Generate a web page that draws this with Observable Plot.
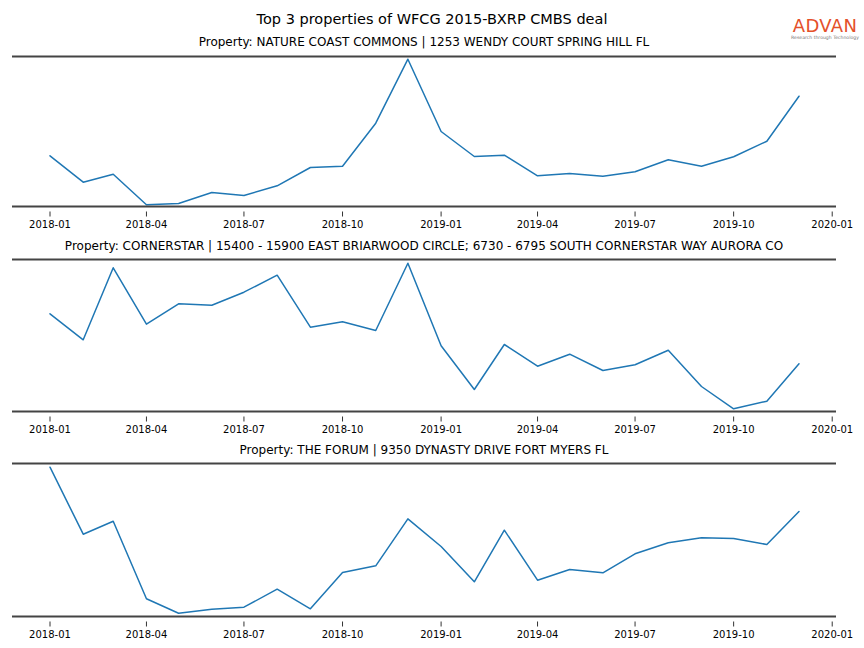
<!DOCTYPE html>
<html><head><meta charset="utf-8">
<script src="https://cdn.jsdelivr.net/npm/d3@7"></script>
<script src="https://cdn.jsdelivr.net/npm/@observablehq/plot@0.6"></script>
<style>
body{margin:0;background:#fff;font-family:"DejaVu Sans",sans-serif;}
#fig{position:relative;width:864px;height:648px;overflow:hidden;background:#fff;}
.t{position:absolute;text-align:center;white-space:nowrap;color:#000;}
.p{position:absolute;left:0;}
#logo{position:absolute;left:791px;top:15px;width:68px;text-align:center;}
#logo .a{font-size:18px;color:#e4502a;letter-spacing:0.3px;line-height:22px;}
#logo .b{font-size:4.6px;color:#777;line-height:6px;margin-top:-2px;}
</style></head><body>
<div id="fig">
  <div class="t" style="left:0;width:864px;top:10px;font-size:14.5px;line-height:18px;">Top 3 properties of WFCG 2015-BXRP CMBS deal</div>
  <div id="logo"><div class="a">ADVAN</div><div class="b">Research through Technology</div></div>
</div>
<script>
const months = ["2018-01","2018-02","2018-03","2018-04","2018-05","2018-06","2018-07","2018-08","2018-09","2018-10","2018-11","2018-12",
                "2019-01","2019-02","2019-03","2019-04","2019-05","2019-06","2019-07","2019-08","2019-09","2019-10","2019-11","2019-12"];
const tickLabels = ["2018-01","2018-04","2018-07","2018-10","2019-01","2019-04","2019-07","2019-10","2020-01"];
const titles = [
  "Property: NATURE COAST COMMONS | 1253 WENDY COURT SPRING HILL FL",
  "Property: CORNERSTAR | 15400 - 15900 EAST BRIARWOOD CIRCLE; 6730 - 6795 SOUTH CORNERSTAR WAY AURORA CO",
  "Property: THE FORUM | 9350 DYNASTY DRIVE FORT MYERS FL"
];
const natureCoast = [50.7,24.3,32.3,1.7,3,14,11,20.7,39,40.3,83.3,147.3,75,50,51.3,30.7,33,30.3,34.7,46.7,40.3,49.7,65.3,110.3];
const cornerstar  = [97.7,71.7,143.7,87.3,107.7,106.3,119.3,136.3,84.3,89.7,81,148.3,65.7,22,67,45.3,57.3,41,46.7,61.3,25,2.7,10.3,47.7];
const theForum    = [149.3,82.3,95.3,17.7,3.3,7.3,9.3,27.3,7.7,44,50.7,97.7,70,34.7,86.3,36.3,47,43.7,62.7,73.7,78.7,78,72,105];
const series = [natureCoast, cornerstar, theForum];
const yMax = [150, 152, 153];
const xDomain = [new Date(Date.UTC(2017,10,27)), new Date(Date.UTC(2020,0,5))];

const parse = d3.utcParse("%Y-%m");
const fig = document.getElementById("fig");
const spineTops = [56, 259, 463];
const titleTops = [35, 239, 443];

series.forEach((vals, i) => {
  const data = months.map((m, j) => ({date: parse(m), value: vals[j]}));
  const t = document.createElement("div");
  t.className = "t";
  t.style.cssText = `left:12px;width:824px;top:${titleTops[i]}px;font-size:12px;line-height:14px;`;
  t.textContent = titles[i];
  fig.appendChild(t);

  const plot = Plot.plot({
    width: 864,
    height: 2 + yMax[i] + 32,
    marginLeft: 12, marginRight: 28, marginTop: 2, marginBottom: 32,
    style: {fontFamily: "DejaVu Sans", fontSize: "10px", background: "transparent", overflow: "visible"},
    x: {type: "utc", domain: xDomain, axis: null},
    y: {domain: [0, yMax[i]], axis: null},
    marks: [
      Plot.axisX(tickLabels.map(parse), {tickFormat: d3.utcFormat("%Y-%m"), tickSize: 5, tickPadding: 3.5, dy: 5.5, stroke: "#333", fill: "#000", fontSize: 10}),
      Plot.line(data, {x: "date", y: "value", stroke: "#1f77b4", strokeWidth: 1.5}),
      Plot.ruleY([0, yMax[i]], {stroke: "#444", strokeWidth: 1.8})
    ]
  });
  plot.classList.add("p");
  plot.style.top = (spineTops[i] - 2) + "px";
  fig.appendChild(plot);
});
</script>
</body></html>
